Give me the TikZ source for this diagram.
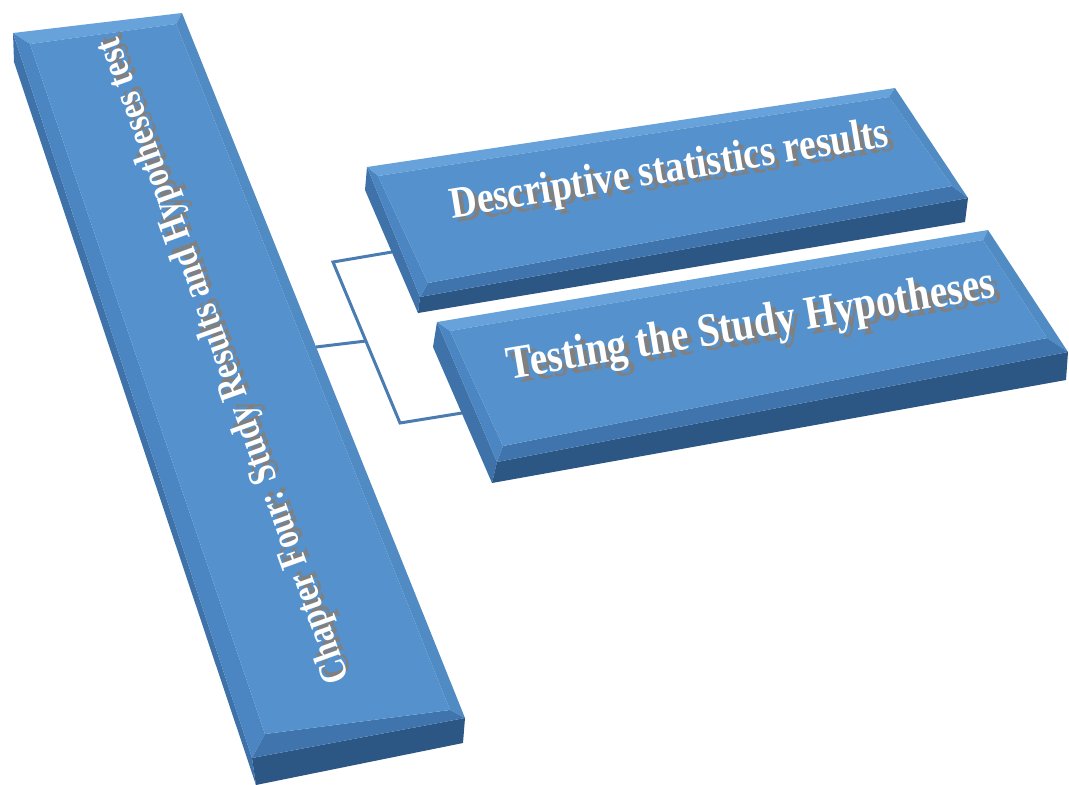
\documentclass[tikz,border=0pt]{standalone}
\usepackage{fontspec}
\setmainfont{Liberation Serif}
\usepackage{graphicx}
\definecolor{facetop}{HTML}{5592CD}
\definecolor{bevtop}{HTML}{68A2DB}
\definecolor{bevside}{HTML}{4C86C2}
\definecolor{bevlow}{HTML}{3F74AC}
\definecolor{sideface}{HTML}{3E72A8}
\definecolor{frontface}{HTML}{2C5683}
\definecolor{linkblue}{HTML}{4A7CB2}
\newcommand{\emboss}[1]{\makebox[0pt][l]{\hspace{1.2pt}\raisebox{-1.2pt}{\color{black!50}#1}}#1}
\tikzset{
  embtext/.style={font=\bfseries, text=white, inner sep=0pt},
  link/.style={draw=linkblue, line width=3pt, line join=miter}
}
\begin{document}
\begin{tikzpicture}[x=1pt,y=-1pt]
		\useasboundingbox (0,0) rectangle (1069,785);
		% Verbindungen
		\coordinate (barE) at (316,347);
		\coordinate (jTop) at (333,262);
		\coordinate (jMid) at (366,341);
		\coordinate (jBot) at (400,423);
		\coordinate (descW) at (392,252);
		\coordinate (testW) at (462,413);
		\draw [link] (descW) -- (jTop) -- (jBot) -- (testW);
		\draw [link] (barE) -- (jMid);
		% Kapitel-Balken
		\fill [sideface] (13,33) -- (252,758) -- (256,785) -- (14,62) -- cycle;
		\fill [frontface] (252,758) -- (465,718) -- (463,743) -- (256,785) -- cycle;
		\fill [bevtop] (13,33) -- (182,13) -- (176,24) -- (30,44) -- cycle;
		\fill [bevside] (13,33) -- (30,44) -- (265,734) -- (252,758) -- cycle;
		\fill [facetop!95!black] (182,13) -- (465,718) -- (450,710) -- (176,24) -- cycle;
		\fill [bevlow] (252,758) -- (265,734) -- (450,710) -- (465,718) -- cycle;
		\fill [facetop] (30,44) -- (176,24) -- (450,710) -- (265,734) -- cycle;
		% Box Descriptive
		\fill [sideface] (367,167) -- (420,297) -- (418,313) -- (365,190) -- cycle;
		\fill [frontface] (420,297) -- (968,198) -- (965,222) -- (418,313) -- cycle;
		\fill [bevtop] (367,167) -- (895,88) -- (889,97) -- (378,176) -- cycle;
		\fill [bevside] (367,167) -- (378,176) -- (428,283) -- (420,297) -- cycle;
		\fill [facetop!95!black] (895,88) -- (968,198) -- (952,186) -- (889,97) -- cycle;
		\fill [bevlow] (420,297) -- (428,283) -- (952,186) -- (968,198) -- cycle;
		\fill [facetop] (378,176) -- (889,97) -- (952,186) -- (428,283) -- cycle;
		% Box Testing
		\fill [sideface] (437,322) -- (497,462) -- (492,483) -- (433,347) -- cycle;
		\fill [frontface] (497,462) -- (1068,352) -- (1066,380) -- (492,483) -- cycle;
		\fill [bevtop] (437,322) -- (988,230) -- (983,240) -- (450,331) -- cycle;
		\fill [bevside] (437,322) -- (450,331) -- (503,446) -- (497,462) -- cycle;
		\fill [facetop!95!black] (988,230) -- (1068,352) -- (1047,338) -- (983,240) -- cycle;
		\fill [bevlow] (497,462) -- (503,446) -- (1047,338) -- (1068,352) -- cycle;
		\fill [facetop] (450,331) -- (983,240) -- (1047,338) -- (503,446) -- cycle;
		% Texte
		\node [embtext, rotate=109.8] (chap) at (227,360) {\resizebox{682pt}{!}{\scalebox{1}[1.22]{\emboss{Chapter Four: Study Results and Hypotheses test}}}};
		\node [embtext, rotate=9.4] (desc) at (670,174) {\resizebox{444pt}{!}{\scalebox{1}[1.18]{\emboss{Descriptive statistics results}}}};
		\node [embtext, rotate=9.5] (test) at (752,330) {\resizebox{494pt}{!}{\scalebox{1}[1.2]{\emboss{Testing the Study Hypotheses}}}};
\end{tikzpicture}
\end{document}
